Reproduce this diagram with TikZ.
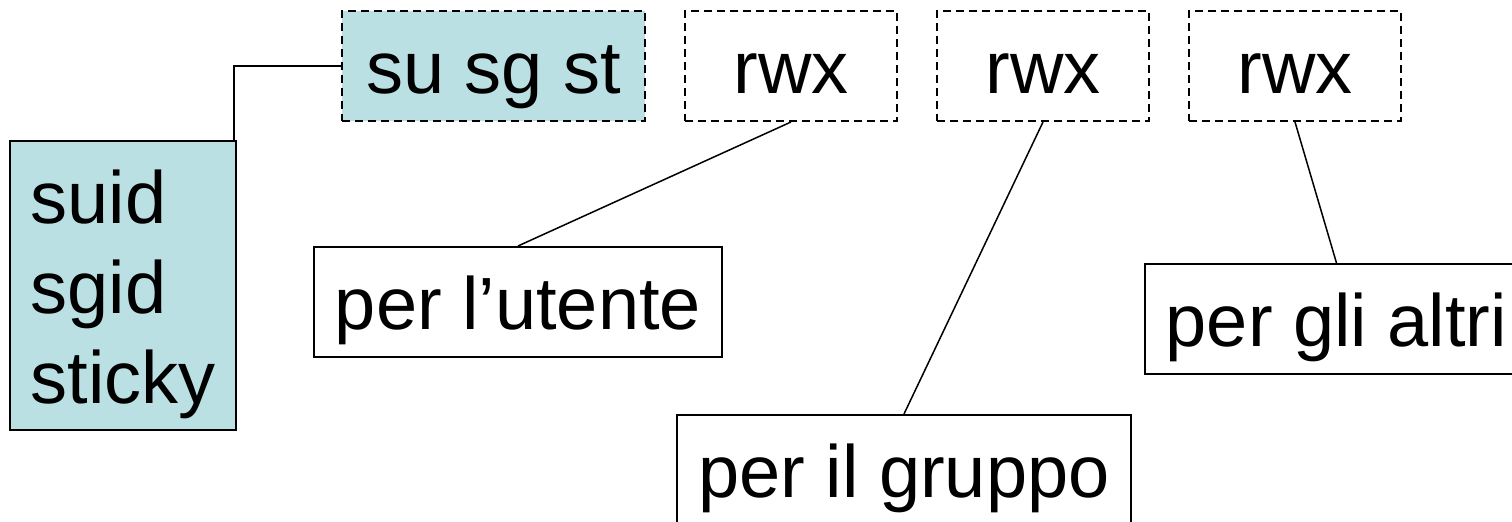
\documentclass[tikz,border=0pt]{standalone}
\usepackage{fontspec}
\setmainfont{Liberation Sans}
\definecolor{bitfill}{HTML}{BBE0E3}

\begin{document}
\begin{tikzpicture}[x=0.5pt,y=-0.5pt,
    lbl/.style={draw,line width=1pt,inner sep=0pt,minimum height=55pt,
      text height=35.5pt,text depth=8pt,font=\fontsize{37}{45}\selectfont},
    bits/.style={lbl,dash pattern=on 4pt off 2.5pt,minimum width=106pt},
    wire/.style={line width=0.75pt}]
  \clip (0,0) rectangle (1512,522);

  % permission bits
  \node[bits,fill=bitfill,minimum width=151.5pt] (spec) at (493.5,66) {su sg st};
  \node[bits] (usr) at (791,66) {rwx};
  \node[bits] (grp) at (1043,66) {rwx};
  \node[bits] (oth) at (1295,66) {rwx};

  % labels
  \node[lbl,fill=bitfill,minimum width=113pt,minimum height=144.5pt,
    text height=126.5pt,align=left] (flags) at (123,285.5) {suid\\sgid\\sticky};
  \node[lbl,minimum width=204pt] (utente) at (518,302) {per l’utente};
  \node[lbl,minimum width=227pt] (gruppo) at (904,470) {per il gruppo};
  \node[lbl,minimum width=191.5pt] (altri) at (1336.5,319) {per gli altri};

  \draw[wire] (spec.west) -| ([xshift=-1.5pt]flags.north east);
  \draw[wire] (usr.south) -- (utente.north);
  \draw[wire] (grp.south) -- (gruppo.north);
  \draw[wire] (oth.south) -- (altri.north);
\end{tikzpicture}
\end{document}
